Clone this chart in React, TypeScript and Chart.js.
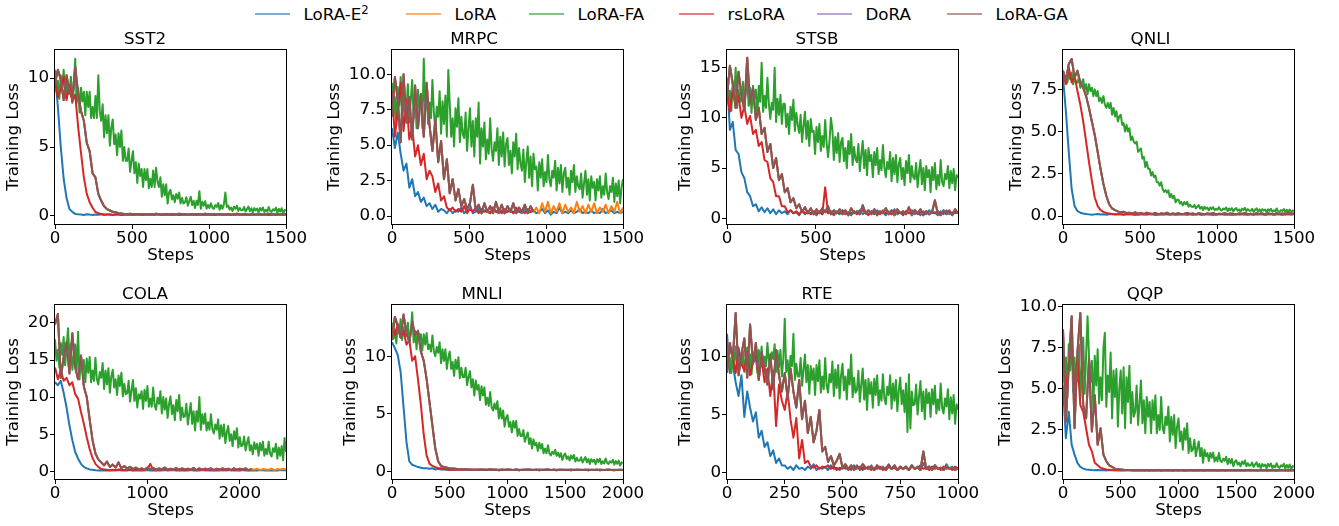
import React, { useEffect, useRef } from "react";
import { Chart, registerables } from "chart.js";

Chart.register(...registerables);

const FONT_FAMILY = "'DejaVu Sans', sans-serif";
const FONT_SIZE = 16.7;

const methodNames = ["LoRA-E²", "LoRA", "LoRA-FA", "rsLoRA", "DoRA", "LoRA-GA"];
const methodColors = ["#1f77b4", "#ff7f0e", "#2ca02c", "#d62728", "#9467bd", "#8c564b"];
const legendColors = [
  "rgba(31,119,180,0.6)",
  "rgba(255,127,14,0.6)",
  "rgba(44,160,44,0.6)",
  "rgba(214,39,40,0.6)",
  "rgba(148,103,189,0.6)",
  "rgba(140,86,75,0.6)",
];

// ---------- tick values ----------
const xTicks1500 = [0, 500, 1000, 1500];
const xTicksStsb = [0, 500, 1000];
const xTicksCola = [0, 1000, 2000];
const xTicks2000 = [0, 500, 1000, 1500, 2000];
const xTicksRte = [0, 250, 500, 750, 1000];
const yTicksSst2 = [0, 5, 10];
const yTicksMrpc = [0, 2.5, 5, 7.5, 10];
const yTicksStsb = [0, 5, 10, 15];
const yTicksQnli = [0, 2.5, 5, 7.5];
const yTicksCola = [0, 5, 10, 15, 20];
const yTicksMnli = [0, 5, 10];
const yTicksRte = [0, 5, 10];
const yTicksQqp = [0, 2.5, 5, 7.5, 10];

// Sampling: most series have 81 samples over the run; LoRA-FA has 161 (twice as dense).

// ---------- SST2 ----------
const sst2E2 = [
  10.4, 7.9, 5.0, 2.7, 1.3, .5, .3, .15, .12, .1,
  .08, .12, .1, .07, .11, .09, .12, .08, .1, .11,
  .07, .1, .12, .08, .1, .09, .11, .07, .1, .12,
  .08, .1, .09, .11, .07, .1, .12, .08, .1, .09,
  .11, .07, .1, .12, .08, .1, .09, .11, .07, .1,
  .12, .08, .1, .09, .11, .07, .1, .12, .08, .1,
  .09, .11, .07, .1, .12, .08, .1, .09, .11, .07,
  .1, .12, .08, .1, .09, .11, .07, .1, .12, .08,
  .1];
const sst2Rs = [
  9.8, 8.6, 9.2, 10.1, 8.4, 9.5, 8.3, 8.8, 6.5, 4.6,
  2.8, 1.6, 1.0, .6, .3, .2, .15, .12, .1, .11,
  .09, .12, .1, .08, .11, .1, .13, .09, .1, .12,
  .08, .11, .1, .13, .09, .1, .12, .08, .11, .1,
  .09, .12, .1, .08, .11, .13, .09, .1, .12, .08,
  .11, .1, .09, .12, .1, .08, .11, .13, .09, .1,
  .12, .08, .11, .1, .09, .12, .1, .08, .11, .1,
  .13, .09, .1, .12, .08, .11, .1, .09, .12, .1,
  .1];
const sst2Ga = [
  9.6, 10.6, 9.9, 8.4, 10.2, 9.0, 8.5, 10.8, 8.9, 7.6,
  6.9, 5.3, 4.7, 3.1, 2.8, 1.6, 1.1, .7, .5, .4,
  .3, .28, .2, .18, .15, .13, .16, .12, .14, .11,
  .15, .12, .1, .14, .11, .16, .12, .1, .15, .13,
  .11, .14, .1, .16, .12, .13, .1, .15, .11, .14,
  .12, .1, .16, .13, .11, .14, .1, .15, .12, .11,
  .14, .1, .13, .16, .11, .12, .15, .1, .14, .12,
  .11, .15, .1, .13, .16, .11, .12, .14, .1, .13,
  .12];
const sst2Fa = [
  10.6, 9.0, 9.8, 8.5, 10.2, 9.3, 10.6, 8.6, 9.7, 8.9,
  8.9, 10.1, 8.2, 9.2, 11.4, 8.2, 9.3, 7.5, 9.3, 8.3,
  9.0, 7.3, 9.0, 7.9, 9.0, 7.1, 7.9, 7.1, 8.7, 7.1,
  10.2, 7.6, 6.9, 8.1, 5.7, 7.3, 6.0, 7.3, 5.1, 6.4,
  7.0, 5.2, 5.9, 4.4, 6.0, 5.0, 6.2, 4.0, 5.0, 4.0,
  4.0, 4.9, 3.2, 4.0, 4.7, 3.1, 3.9, 2.4, 3.8, 2.9,
  3.4, 2.1, 3.4, 2.6, 3.4, 2.0, 2.7, 2.1, 3.3, 2.1,
  3.5, 2.5, 2.1, 2.8, 1.4, 2.3, 1.5, 2.3, .9, 1.7,
  1.9, 1.2, 1.5, 1.0, 1.6, 1.25, 1.7, .9, 1.3, .9,
  .98, 1.36, .75, 1.07, 1.4, .79, 1.1, .57, 1.1, .8,
  1.8, .52, 1.03, .75, 1.07, .53, .8, .58, .92, .6,
  .52, .78, .66, .94, .45, .79, .52, .85, 1.7, .66,
  .76, .46, .61, .36, .68, .52, .74, .37, .58, .42,
  .43, .65, .32, .51, .68, .35, .56, .25, .57, .41,
  .54, .25, .58, .4, .62, .29, .45, .32, .65, .36,
  .29, .49, .4, .61, .23, .52, .32, .56, .2, .44,
  .4];
const sst2Lora = sst2Ga;
const sst2Dora = sst2Ga;

// ---------- MRPC ----------
const mrpcE2 = [
  6.2, 4.8, 5.9, 4.4, 3.2, 3.7, 2.0, 2.6, 1.4, 1.7,
  1.0, 1.3, .7, .9, .5, .8, .3, .5, .4, .2,
  .5, .2, .4, .3, .6, .2, .4, .8, .2, .3,
  .5, .2, .4, .3, .2, .6, .3, .2, .4, .2,
  .3, .5, .2, .4, .3, .2, .5, .2, .3, .4,
  .2, .3, .5, .2, .4, .1, .3, .2, .6, .2,
  .3, .2, .4, .2, .3, .5, .2, .3, .2, .4,
  .2, .3, .2, .5, .2, .3, .4, .2, .3, .2,
  .3];
const mrpcRs = [
  8.8, 5.6, 7.4, 9.4, 6.0, 8.2, 5.4, 6.3, 4.2, 5.0,
  3.6, 4.4, 2.6, 3.2, 2.8, 1.7, 2.3, 1.1, 1.4, .6,
  .4, .6, .3, .5, .3, .7, .2, .5, .3, .6,
  .2, .5, .3, .4, .2, .6, .3, .4, .2, .5,
  .3, .4, .2, .6, .3, .4, .2, .5, .3, .4];
const mrpcGa = [
  7.0, 9.8, 8.2, 5.2, 10.0, 6.6, 8.4, 5.4, 9.2, 6.2,
  8.6, 5.6, 9.4, 6.4, 4.6, 6.8, 3.8, 5.3, 2.6, 4.0,
  1.6, 2.6, 1.1, 1.9, .7, 1.2, .5, .9, 2.2, .4,
  .8, .2, .9, .3, .7, .2, 1.0, .3, .8, .2,
  .7, .3, .9, .2, .6, .3, .8, .2, .7, .3];
const mrpcLoraTail = [
  .6, .2, .9, .3, 1.0, .2, .7, .3, .9, .2,
  .8, .3, .6, .2, 1.0, .3, .7, .2, .8, .3,
  .9, .2, .6, .3, .8, .2, .7, .3, 1.0, .2,
  .6];
const mrpcFa = [
  9.4, 7.1, 8.4, 6.4, 9.1, 7.8, 9.8, 6.7, 8.5, 7.3,
  7.5, 9.3, 6.6, 8.2, 9.6, 6.9, 8.7, 6.2, 8.9, 7.6,
  8.5, 6.2, 11.1, 7.4, 9.2, 6.5, 8.0, 6.9, 9.6, 7.3,
  6.1, 7.7, 7.0, 8.8, 5.8, 8.1, 6.5, 8.5, 5.6, 10.3,
  7.9, 5.6, 6.9, 4.9, 7.6, 6.3, 8.3, 5.2, 7.0, 5.8,
  5.5, 7.3, 4.6, 6.2, 7.6, 4.9, 6.7, 4.2, 6.9, 5.6,
  8.0, 3.7, 6.2, 4.9, 6.6, 4.0, 5.4, 4.4, 6.9, 4.7,
  3.9, 5.2, 4.6, 6.2, 3.6, 5.6, 4.2, 5.9, 3.5, 5.1,
  5.5, 3.6, 4.6, 3.0, 5.2, 4.2, 5.8, 3.3, 4.8, 3.7,
  3.2, 4.7, 2.4, 3.8, 4.9, 2.7, 4.2, 2.1, 4.4, 3.3,
  3.5, 1.8, 3.8, 2.7, 4.0, 2.1, 3.1, 2.4, 4.3, 2.6,
  2.1, 3.2, 2.7, 3.9, 1.8, 3.4, 2.3, 3.6, 1.7, 3.0,
  3.4, 2.0, 2.7, 1.5, 3.2, 2.4, 3.6, 1.7, 2.8, 2.1,
  1.9, 3.0, 1.3, 2.3, 3.2, 1.5, 2.6, 1.1, 2.8, 2.0,
  2.4, 1.1, 2.6, 1.8, 2.8, 1.3, 2.1, 1.5, 3.0, 1.7,
  1.2, 2.1, 1.7, 2.7, 1.0, 2.3, 1.4, 2.5, .9, 2.0,
  2.6];
const mrpcLora = [...mrpcGa, ...mrpcLoraTail];
const mrpcDora = mrpcGa;

// ---------- STSB ----------
const stsbE2 = [
  14.0, 8.8, 9.6, 6.8, 6.4, 4.6, 4.0, 2.6, 2.2, 1.2,
  1.4, .7, 1.1, .6, 1.0, .5, .9, .4, .8, .5,
  .7, .4, .8, .5, .6, .3, .8, .4, .7, .5,
  .6, .3, .7, .4, .8, .5, .6, .3, .7, .4,
  .8, .4, .6, .3, .7, .5, .8, .4, .6, .3,
  .7, .4, .8, .5, .6, .3, .7, .4, .9, .4,
  .6, .3, .7, .5, .8, .4, .6, .3, .7, .4,
  .8, .5, .6, .3, .7, .4, .8, .4, .6, .5,
  .6];
const stsbRs = [
  12.5, 10.6, 13.0, 11.0, 12.2, 10.0, 11.2, 9.4, 10.2, 8.4,
  8.8, 7.2, 7.6, 5.8, 5.6, 4.0, 3.6, 2.2, 2.2, 1.2,
  1.2, .6, .8, .5, .7, .4, .8, .5, .6, .4,
  .7, .5, .6, .4, 3.1, .5, .7, .4, .6, .5,
  .8, .4, .6, .5, .7, .4, .6, .8, .5, .4,
  .7, .5, .6, .4, .8, .5, .6, .4, .7, .5,
  .6, .4, .7, .5, .6, .8, .4, .6, .5, .7,
  .4, .6, .5, .7, .4, .6, .5, .8, .4, .6,
  .5];
const stsbGa = [
  12.0, 15.2, 13.4, 11.0, 14.6, 12.2, 10.8, 16.0, 11.4, 13.0,
  9.8, 11.0, 8.4, 9.0, 6.6, 7.4, 5.0, 6.0, 3.8, 4.4,
  2.6, 3.0, 1.6, 2.0, 1.0, 1.4, .6, 1.1, .5, 1.0,
  .4, .9, .5, 1.0, .6, 1.2, .4, .8, .5, .9,
  .4, .8, .3, 1.0, .5, .7, .4, 1.3, .5, .8,
  .4, .9, .3, .7, .5, 1.0, .4, .8, .3, .9,
  .5, .7, .4, 1.1, .3, .8, .5, .9, .3, .7,
  .4, .6, 1.8, .5, .3, .8, .4, .7, .3, .9,
  .5];
const stsbFa = [
  13.7, 11.4, 12.7, 10.7, 13.4, 12.1, 15.0, 11.0, 12.8, 11.6,
  11.8, 13.6, 10.9, 12.5, 13.9, 11.2, 13.0, 10.5, 13.2, 11.9,
  12.8, 10.2, 13.2, 11.6, 15.5, 10.6, 12.2, 11.0, 14.0, 11.4,
  9.9, 11.5, 10.8, 15.0, 9.6, 11.9, 10.3, 12.3, 9.4, 11.4,
  11.4, 9.1, 10.4, 8.4, 11.1, 9.8, 11.8, 8.7, 10.5, 9.3,
  8.5, 10.3, 7.6, 9.2, 10.6, 7.9, 9.7, 7.2, 9.9, 8.6,
  8.7, 6.4, 9.1, 7.6, 9.4, 6.7, 8.2, 7.1, 9.8, 7.5,
  6.1, 7.7, 10.0, 8.8, 5.8, 8.1, 6.5, 8.5, 5.6, 7.6,
  8.0, 5.7, 7.0, 5.0, 7.7, 6.4, 8.4, 5.3, 7.1, 5.9,
  5.6, 7.4, 4.7, 6.3, 7.7, 5.0, 6.8, 4.3, 7.0, 5.7,
  6.3, 4.1, 6.6, 5.3, 7.0, 4.4, 5.8, 4.8, 7.3, 5.1,
  4.1, 5.6, 4.9, 6.6, 3.7, 6.0, 4.4, 6.3, 3.6, 5.4,
  6.0, 3.9, 5.0, 3.3, 5.7, 4.5, 6.3, 3.6, 5.2, 4.1,
  3.9, 5.5, 3.1, 4.6, 5.8, 3.4, 5.0, 2.8, 5.2, 4.1,
  4.8, 2.6, 5.1, 3.8, 5.5, 2.9, 4.3, 3.3, 5.8, 3.6,
  3.2, 4.4, 3.9, 5.2, 3.0, 4.7, 3.5, 4.9, 2.8, 4.3,
  4.0];
const stsbLora = stsbGa;
const stsbDora = stsbGa;

// ---------- QNLI ----------
const qnliE2 = [
  8.2, 6.2, 3.8, 1.6, .6, .3, .2, .15, .12, .1,
  .08, .1, .12, .09, .11, .08, .1, .12, .09, .1,
  .11, .08, .1, .12, .09, .1, .08, .11, .1, .09,
  .12, .1, .08, .11, .09, .1, .12, .08, .1, .11,
  .09, .1, .12, .08, .11, .1, .09, .12, .08, .1,
  .11, .09, .1, .08, .12, .1, .09, .11, .08, .1,
  .12, .09, .1, .11, .08, .1, .12, .09, .11, .1,
  .08, .1, .12, .09, .1, .11, .08, .12, .1, .09,
  .1];
const qnliRs = [
  8.4, 7.8, 8.8, 7.9, 8.3, 7.4, 6.6, 5.6, 4.4, 3.2,
  2.1, 1.1, .6, .35, .25, .18, .15, .12, .1, .12,
  .1, .09, .12, .1, .11, .08, .12, .1, .09, .11,
  .1, .12, .08, .11, .1, .09, .12, .1, .11, .08,
  .1, .12, .09, .11, .1, .08, .12, .1, .09, .11,
  .12, .1, .08, .11, .1, .12, .09, .1, .11, .08,
  .1, .12, .1, .09, .11, .1, .08, .12, .1, .11,
  .09, .1, .12, .08, .11, .1, .09, .12, .1, .11,
  .1];
const qnliGa = [
  8.6, 8.0, 9.0, 9.3, 8.2, 8.6, 7.9, 7.6, 7.1, 6.4,
  5.6, 4.8, 3.8, 2.8, 1.9, 1.2, .7, .45, .35, .28,
  .22, .25, .18, .2, .15, .22, .14, .18, .12, .2,
  .15, .12, .18, .1, .16, .13, .2, .11, .15, .12,
  .17, .1, .14, .19, .12, .15, .1, .17, .13, .11,
  .16, .12, .18, .1, .14, .12, .17, .11, .15, .13,
  .1, .16, .12, .18, .11, .14, .1, .17, .12, .15,
  .11, .16, .13, .1, .17, .12, .15, .11, .18, .13,
  .15];
const qnliFa = [
  8.6, 8.1, 8.3, 7.9, 8.4, 8.1, 8.5, 7.8, 8.2, 7.9,
  7.9, 8.2, 7.6, 7.9, 8.1, 7.5, 7.8, 7.2, 7.8, 7.4,
  7.6, 7.1, 7.5, 7.1, 7.4, 6.8, 7.0, 6.7, 7.1, 6.6,
  6.4, 6.7, 6.4, 6.7, 6.0, 6.4, 5.9, 6.2, 5.6, 5.9,
  6.0, 5.4, 5.5, 5.0, 5.4, 5.0, 5.2, 4.5, 4.7, 4.4,
  4.3, 4.4, 3.8, 3.9, 4.0, 3.4, 3.5, 2.9, 3.2, 2.8,
  2.8, 2.4, 2.6, 2.3, 2.4, 2.0, 2.0, 1.8, 2.0, 1.6,
  1.43, 1.54, 1.39, 1.52, 1.11, 1.3, 1.05, 1.2, .81, .96,
  .97, .74, .83, .63, .83, .7, .84, .55, .68, .55,
  .54, .66, .45, .55, .65, .44, .55, .36, .55, .43,
  .5, .34, .51, .42, .53, .35, .43, .37, .53, .37,
  .33, .44, .39, .51, .29, .45, .34, .47, .28, .41,
  .47, .31, .39, .26, .44, .36, .49, .29, .41, .32,
  .31, .43, .25, .36, .46, .28, .4, .23, .41, .33,
  .38, .22, .4, .31, .43, .25, .34, .27, .45, .29,
  .24, .35, .3, .42, .21, .37, .26, .39, .2, .33,
  .3];
const qnliLora = qnliGa;
const qnliDora = qnliGa;

// ---------- COLA ----------
const colaE2 = [
  12.0, 11.6, 12.2, 10.6, 8.6, 6.2, 4.2, 2.6, 1.7, 1.0,
  .6, .4, .25, .2, .15, .12, .15, .1, .12, .15,
  .1, .13, .16, .11, .14, .1, .17, .12, .15, .11,
  .14, .1, .16, .12, .13, .1, .15, .12, .17, .11,
  .13, .16, .1, .14, .12, .15, .11, .17, .12, .14,
  .1, .16, .13, .11, .15, .12, .14, .1, .16, .12,
  .13, .15, .11, .14, .12, .16, .1, .15, .12, .14,
  .11, .16, .13, .1, .15, .12, .14, .11, .16, .13,
  .15];
const colaRs = [
  14.0, 12.4, 13.6, 12.2, 12.6, 11.6, 12.0, 10.4, 9.8, 8.0,
  6.4, 4.6, 3.0, 1.8, 1.0, .6, .3, .25, .2, .15,
  .2, .15, .25, .2, .15, .3, .2, .15, .25, .2,
  .15, .2, .3, 1.0, .2, .15, .25, .2, .3, .15,
  .2, .25, .15, .3, .2, .15, .25, .2, .3, .15,
  .2, .25, .15, .2, .3, .15, .2, .25, .15, .2,
  .3, .15, .2, .25, .15, .2, .3, .15, .2];
const colaGa = [
  19.8, 21.2, 12.6, 15.4, 17.4, 13.2, 18.6, 14.0, 12.4, 15.6,
  11.4, 10.0, 7.0, 4.2, 2.4, 1.6, 1.2, .8, 1.3, .6,
  .9, .5, 1.2, .4, .7, .35, .6, .3, .5, .25,
  .4, .2, .5, .3, .45, .2, .4, .25, .5, .2,
  .35, .2, .45, .15, .4, .25, .35, .2, .45, .15,
  .4, .2, .35, .25, .4, .15, .35, .2, .4, .25,
  .35, .15, .4, .2, .35, .25, .4, .15, .3];
const colaLoraTail = [.2, .35, .15, .3, .25, .2, .35, .15, .3, .2, .35, .25];
const colaFa = [
  17.8, 14.9, 16.4, 14.0, 17.3, 15.7, 18.1, 14.3, 16.5, 19.3,
  15.1, 17.2, 13.7, 15.5, 17.1, 13.6, 18.8, 12.4, 15.5, 13.8,
  15.0, 12.0, 15.2, 13.3, 15.4, 12.0, 13.6, 12.2, 15.3, 12.4,
  11.7, 13.4, 12.6, 14.6, 11.1, 13.6, 11.7, 13.9, 10.6, 12.8,
  13.7, 11.3, 12.4, 10.3, 12.9, 11.5, 13.3, 10.1, 11.8, 10.4,
  10.5, 12.2, 9.4, 10.9, 12.3, 9.5, 11.2, 8.6, 10.4, 9.8,
  10.8, 8.4, 11.0, 9.5, 11.5, 8.7, 9.8, 8.7, 11.3, 8.9,
  8.3, 9.9, 9.1, 10.8, 7.8, 10.0, 8.3, 9.8, 7.2, 9.1,
  10.1, 7.7, 8.9, 6.9, 9.6, 8.1, 10.3, 6.9, 8.6, 7.3,
  7.4, 9.1, 6.3, 7.8, 9.2, 6.4, 8.1, 5.5, 8.1, 6.7,
  10.0, 5.6, 7.7, 6.4, 7.8, 5.5, 6.6, 5.6, 7.7, 5.7,
  5.1, 6.3, 5.6, 7.0, 4.4, 6.2, 4.7, 6.3, 3.8, 5.3,
  6.1, 4.1, 5.0, 3.4, 5.4, 4.3, 5.8, 3.2, 4.6, 3.4,
  3.5, 4.7, 2.8, 3.8, 4.6, 2.8, 3.5, 2.3, 3.9, 3.0,
  3.7, 2.1, 3.8, 2.8, 4.0, 2.1, 3.0, 2.3, 4.0, 2.4,
  2.0, 3.1, 2.6, 3.7, 1.7, 3.2, 2.1, 3.4, 1.5, 4.5,
  2.6];
const colaLora = [...colaGa, ...colaLoraTail];
const colaDora = colaGa;

// ---------- MNLI ----------
const mnliE2 = [
  11.2, 10.7, 10.1, 8.6, 5.6, 2.6, .9, .6, .5, .4,
  .35, .3, .3, .25, .3, .2, .25, .2, .22, .18,
  .2, .17, .22, .18, .2, .16, .21, .18, .2, .17,
  .19, .16, .2, .18, .21, .17, .19, .16, .2, .18,
  .17, .2, .16, .19, .18, .15, .2, .17, .19, .16,
  .18, .2, .16, .19, .17, .15, .2, .18, .16, .19,
  .17, .15, .19, .18, .16, .2, .17, .15, .19, .16,
  .18, .16, .19, .15, .17, .2, .16, .18, .15, .19,
  .17];
const mnliRs = [
  12.6, 11.8, 12.8, 11.6, 12.2, 11.0, 11.4, 9.6, 10.0, 8.0,
  5.8, 3.2, 1.4, .7, .5, .4, .3, .3, .25, .2,
  .18, .2, .16, .19, .15, .18, .2, .16, .17, .15,
  .19, .16, .18, .14, .17, .19, .15, .17, .16, .18,
  .14, .17, .15, .19, .16, .14, .18, .15, .17, .16,
  .15, .18, .14, .17, .16, .15, .18, .14, .17, .15,
  .16, .14, .18, .15, .17, .14, .16, .18, .15, .16,
  .14, .17, .15, .16, .18, .14, .16, .15, .17, .14,
  .15];
const mnliGa = [
  11.4, 13.4, 12.6, 11.6, 13.6, 12.0, 11.2, 13.0, 11.8, 12.2,
  10.4, 9.6, 8.0, 6.0, 4.0, 2.0, .9, .5, .4, .35,
  .3, .28, .25, .22, .2, .22, .18, .2, .16, .18,
  .15, .19, .14, .17, .2, .15, .18, .13, .17, .15,
  .19, .14, .16, .18, .13, .17, .15, .19, .14, .16,
  .18, .13, .17, .15, .19, .14, .16, .13, .18, .15,
  .14, .17, .13, .16, .18, .14, .15, .17, .13, .16,
  .15, .18, .13, .16, .14, .17, .15, .13, .16, .14,
  .15];
const mnliFa = [
  12.9, 11.5, 12.3, 11.1, 12.7, 12.0, 13.2, 11.4, 12.5, 11.7,
  11.9, 12.9, 11.2, 12.1, 13.8, 11.2, 12.2, 10.6, 12.2, 11.4,
  11.9, 10.5, 11.9, 11.0, 12.0, 10.6, 11.0, 10.4, 11.8, 10.4,
  10.0, 10.8, 10.3, 11.2, 9.4, 10.6, 9.6, 10.6, 8.9, 9.9,
  10.4, 8.9, 9.5, 8.3, 9.7, 8.9, 9.9, 8.1, 9.0, 8.2,
  8.2, 9.0, 7.5, 8.2, 8.7, 7.3, 8.0, 6.6, 7.9, 7.1,
  7.5, 6.2, 7.4, 6.6, 7.3, 5.8, 6.4, 5.7, 6.9, 5.6,
  5.3, 5.9, 5.4, 6.1, 4.6, 5.5, 4.6, 5.3, 3.9, 4.7,
  4.9, 3.9, 4.3, 3.4, 4.4, 3.8, 4.4, 3.1, 3.7, 3.1,
  3.1, 3.6, 2.6, 3.0, 3.4, 2.4, 2.9, 2.0, 2.8, 2.3,
  2.5, 1.8, 2.5, 2.0, 2.4, 1.6, 2.0, 1.6, 2.3, 1.6,
  1.41, 1.73, 1.54, 1.9, 1.37, 1.65, 1.28, 1.6, 1.02, 1.41,
  1.58, 1.1, 1.32, .97, 1.4, 1.14, 1.45, .88, 1.21, .94,
  .96, 1.25, .8, 1.04, 1.27, .81, 1.1, .67, 1.09, .87,
  1.04, .64, 1.08, .84, 1.12, .67, .9, .72, 1.14, .75,
  .68, .9, .79, 1.04, .61, .92, .69, .96, .53, .81,
  .75];
const mnliLora = mnliGa;
const mnliDora = mnliGa;

// ---------- RTE ----------
const rteE2 = [
  12.0, 8.6, 9.4, 7.8, 6.6, 8.4, 4.8, 7.0, 5.6, 4.4,
  5.2, 3.0, 3.6, 2.2, 2.6, 1.4, 1.9, .8, 1.2, .6,
  .6, .3, .5, .2, .6, .3, .4, .2, .5, .3,
  .7, .2, .4, .3, .5, .2, .6, .3, .4, .2,
  .5, .3, .4, .2, .6, .3, .5, .2, .4, .3,
  .6, .2, .4, .3, .5, .2, .7, .3, .4, .2,
  .5, .3, .4, .2, .6, .3, .5, .2, .8, .3,
  .5, .2, .6, .3, .4, .2, .7, .3, .5, .2,
  .4];
const rteRs = [
  9.2, 11.2, 10.0, 8.6, 10.8, 9.4, 8.8, 10.4, 8.4, 9.6,
  10.0, 8.2, 9.8, 7.8, 9.0, 6.6, 8.8, 4.0, 7.6, 6.2,
  5.4, 7.0, 4.6, 3.0, 4.7, 1.2, 2.8, .8, 1.0, .5,
  .4, .6, .3, .5, .4, .6, .3, .5, .2, .4,
  .3, .5, .2, .4, .3, .6, .2, .4, .3, .5,
  .2, .4, .3, .5, .2, .4, .6, .3, .4, .2,
  .5, .3, .4, .2, .5, .3, .4, .6, .3, .4,
  .2, .5, .3, .4, .2, .5, .3, .4, .2, .5,
  .3];
const rteGa = [
  8.6, 11.0, 9.8, 13.8, 8.4, 10.2, 11.6, 8.2, 12.8, 9.4,
  11.2, 8.0, 10.4, 9.0, 7.6, 10.2, 7.2, 10.6, 8.4, 7.0,
  8.6, 6.4, 9.0, 7.0, 5.6, 8.0, 4.6, 6.2, 3.4, 4.8,
  2.6, 3.6, 5.4, 1.8, 2.2, .9, 1.4, .6, 1.0, 1.6,
  .4, .7, .3, .6, .2, .5, .3, .7, .4, .3,
  .5, .2, .6, .3, .4, .2, .5, .3, .6, .2,
  .4, .3, .5, .2, .6, .3, .4, .2, 1.8, .3,
  .5, .2, .6, .3, .4, .2, .5, .3, .4, .2,
  .4];
const rteFa = [
  10.7, 9.1, 9.9, 8.6, 10.4, 9.6, 10.9, 8.9, 10.1, 9.2,
  9.3, 10.5, 8.7, 9.8, 10.8, 9.0, 10.2, 8.5, 10.3, 9.6,
  10.3, 8.6, 10.6, 9.5, 10.9, 9.0, 10.0, 9.2, 11.2, 9.6,
  9.2, 10.4, 9.8, 11.1, 8.7, 10.5, 9.1, 10.6, 8.3, 9.8,
  13.3, 8.7, 9.7, 8.1, 10.1, 9.2, 12.0, 8.0, 9.4, 8.3,
  8.3, 9.9, 7.5, 8.9, 10.2, 7.8, 9.3, 6.8, 9.2, 8.0,
  9.0, 6.7, 9.3, 7.9, 9.7, 6.9, 8.3, 7.2, 9.9, 7.5,
  6.9, 8.5, 7.8, 9.6, 6.6, 8.9, 7.3, 9.3, 6.4, 8.4,
  9.4, 7.1, 8.3, 6.3, 8.9, 7.6, 10.2, 6.5, 8.2, 6.9,
  7.1, 8.8, 6.1, 7.6, 9.0, 6.3, 8.0, 5.4, 8.1, 6.8,
  7.8, 5.6, 8.1, 6.7, 8.4, 5.8, 7.1, 6.2, 8.5, 6.4,
  5.9, 7.4, 6.7, 8.4, 5.5, 7.7, 6.2, 8.0, 5.3, 7.1,
  8.2, 5.9, 7.1, 5.2, 7.7, 3.5, 8.5, 3.8, 7.0, 5.8,
  5.9, 7.6, 5.0, 6.6, 7.9, 5.3, 7.0, 4.6, 7.2, 6.0,
  6.9, 4.8, 7.2, 5.9, 7.5, 5.1, 6.3, 5.4, 7.7, 5.6,
  5.1, 6.4, 5.7, 7.2, 4.6, 6.5, 5.1, 6.7, 4.2, 5.9,
  5.4];
const rteLora = rteGa;
const rteDora = rteGa;

// ---------- QQP ----------
const qqpE2 = [
  5.2, 2.0, 3.6, 1.6, 1.0, .5, .25, .15, .1, .08,
  .06, .05, .07, .05, .06, .04, .06, .05, .07, .05,
  .04, .06, .05, .07, .04, .06, .05, .04, .06, .05,
  .07, .04, .05, .06, .04, .07, .05, .06, .04, .05,
  .06, .05, .04, .07, .05, .06, .04, .05, .06, .04,
  .05, .07, .04, .06, .05, .04, .06, .05, .07, .04,
  .06, .05, .04, .06, .05, .07, .04, .05, .06, .04,
  .05, .06, .04, .05, .07, .04, .06, .05, .04, .06,
  .05];
const qqpRs = [
  7.2, 5.0, 6.4, 8.0, 4.6, 6.8, 4.0, 3.6, 2.6, 1.6,
  1.2, .5, .35, .2, .15, .1, .08, .06, .05, .06,
  .05, .04, .06, .05, .07, .04, .05, .06, .04, .05,
  .06, .05, .04, .06, .05, .07, .04, .05, .06, .05,
  .04, .06, .05, .04, .07, .05, .06, .04, .05, .06,
  .05, .04, .06, .05, .04, .06, .05, .07, .04, .05,
  .06, .04, .05, .06, .05, .04, .07, .05, .04, .06,
  .05, .04, .06, .05, .04, .06, .05, .04, .06, .05,
  .05];
const qqpGa = [
  8.6, 3.0, 6.4, 9.4, 2.6, 7.2, 9.6, 4.0, 3.2, 6.8,
  2.4, 4.6, 1.6, 2.6, 1.0, .6, .35, .25, .15, .12,
  .1, .08, .07, .06, .05, .06, .05, .07, .05, .06,
  .04, .06, .05, .07, .04, .05, .06, .05, .04, .06,
  .05, .07, .04, .05, .06, .04, .05, .06, .05, .04,
  .06, .05, .07, .04, .05, .06, .04, .05, .06, .05,
  .04, .06, .05, .04, .07, .05, .06, .04, .05, .06,
  .05, .04, .06, .05, .04, .06, .05, .07, .04, .05,
  .05];
const qqpFa = [
  8.3, 5.4, 6.9, 4.5, 7.7, 6.1, 8.6, 4.8, 6.9, 5.4,
  5.5, 7.7, 4.4, 6.3, 8.1, 4.7, 7.0, 9.4, 7.0, 5.4,
  6.7, 3.8, 7.0, 5.2, 7.4, 4.1, 5.7, 4.3, 7.5, 8.4,
  3.9, 5.8, 4.8, 7.2, 3.2, 6.1, 4.5, 6.2, 2.7, 5.0,
  6.1, 3.5, 6.3, 2.6, 5.7, 4.2, 6.4, 2.9, 4.8, 3.3,
  3.6, 5.2, 2.8, 4.1, 5.5, 2.9, 4.3, 2.3, 4.5, 3.3,
  4.2, 2.3, 4.3, 3.1, 4.6, 2.3, 3.4, 2.5, 4.5, 2.6,
  2.3, 3.3, 2.8, 3.9, 1.8, 3.3, 2.2, 3.4, 1.4, 2.7,
  3.2, 1.8, 2.4, 1.3, 2.6, 1.9, 2.9, 1.1, 2.0, 1.2,
  1.3, 1.9, .9, 1.4, 1.8, .9, 1.4, .5, 1.3, .9,
  1.09, .61, 1.11, .81, 1.13, .58, .84, .6, 1.1, .62,
  .55, .76, .63, .87, .42, .73, .48, .74, .29, .57,
  .66, .39, .52, .29, .58, .43, .64, .29, .48, .33,
  .35, .52, .25, .4, .53, .26, .43, .17, .43, .3,
  .4, .17, .44, .29, .46, .19, .34, .22, .48, .26,
  .19, .35, .28, .45, .15, .37, .2, .4, .1, .3,
  .25];
const qqpLora = qqpGa;
const qqpDora = qqpGa;

// ---------- layout ----------
const plotLefts = [55, 392, 727, 1063];
const plotTops = [50, 305];
const PLOT_W = 231;
const PLOT_H = 174;
const TITLE_H = 20;
const X_AXIS_H = 42;
const RIGHT_PAD = 26;
const legendLeft = [255, 406, 529, 679, 817, 947];

type Panel = {
  title: string; col: number; row: number; xMax: number; xTicks: number[];
  yMin: number; yMax: number; yTicks: number[]; yDec: number; yAxisW: number; series: number[][];
};

const panels: Panel[] = [
  { title: "SST2", col: 0, row: 0, xMax: 1500, xTicks: xTicks1500, yMin: -0.58, yMax: 12.03, yTicks: yTicksSst2, yDec: 0, yAxisW: 51,
    series: [sst2E2, sst2Lora, sst2Fa, sst2Rs, sst2Dora, sst2Ga] },
  { title: "MRPC", col: 1, row: 0, xMax: 1500, xTicks: xTicks1500, yMin: -0.56, yMax: 11.71, yTicks: yTicksMrpc, yDec: 1, yAxisW: 67,
    series: [mrpcE2, mrpcLora, mrpcFa, mrpcRs, mrpcDora, mrpcGa] },
  { title: "STSB", col: 2, row: 0, xMax: 1300, xTicks: xTicksStsb, yMin: -0.57, yMax: 16.76, yTicks: yTicksStsb, yDec: 0, yAxisW: 51,
    series: [stsbE2, stsbLora, stsbFa, stsbRs, stsbDora, stsbGa] },
  { title: "QNLI", col: 3, row: 0, xMax: 1500, xTicks: xTicks1500, yMin: -0.47, yMax: 9.83, yTicks: yTicksQnli, yDec: 1, yAxisW: 56,
    series: [qnliE2, qnliLora, qnliFa, qnliRs, qnliDora, qnliGa] },
  { title: "COLA", col: 0, row: 1, xMax: 2500, xTicks: xTicksCola, yMin: -1.04, yMax: 22.42, yTicks: yTicksCola, yDec: 0, yAxisW: 51,
    series: [colaE2, colaLora, colaFa, colaRs, colaDora, colaGa] },
  { title: "MNLI", col: 1, row: 1, xMax: 2000, xTicks: xTicks2000, yMin: -0.63, yMax: 14.43, yTicks: yTicksMnli, yDec: 0, yAxisW: 51,
    series: [mnliE2, mnliLora, mnliFa, mnliRs, mnliDora, mnliGa] },
  { title: "RTE", col: 2, row: 1, xMax: 1000, xTicks: xTicksRte, yMin: -0.58, yMax: 14.49, yTicks: yTicksRte, yDec: 0, yAxisW: 51,
    series: [rteE2, rteLora, rteFa, rteRs, rteDora, rteGa] },
  { title: "QQP", col: 3, row: 1, xMax: 2000, xTicks: xTicks2000, yMin: -0.48, yMax: 10.08, yTicks: yTicksQqp, yDec: 1, yAxisW: 67,
    series: [qqpE2, qqpLora, qqpFa, qqpRs, qqpDora, qqpGa] },
];

const framePlugin = {
  id: "frame",
  afterDraw(chart: any) {
    const { ctx, chartArea: a } = chart;
    ctx.save();
    ctx.strokeStyle = "#000";
    ctx.lineWidth = 1;
    ctx.strokeRect(a.left - 0.5, a.top - 0.5, a.right - a.left + 1, a.bottom - a.top + 1);
    ctx.restore();
  },
};

function makeConfig(p: Panel): any {
  const font = { family: FONT_FAMILY, size: FONT_SIZE, lineHeight: "20px" };
  return {
    type: "line",
    data: {
      datasets: p.series.map((ys, k) => {
        // LoRA-FA (k = 2) is sampled twice as densely as the other series
        const dx = p.xMax / (k === 2 ? 160 : 80);
        return {
          label: methodNames[k],
          data: ys.map((y, i) => ({ x: i * dx, y })),
          borderColor: methodColors[k],
          backgroundColor: methodColors[k],
          borderWidth: 2,
          borderJoinStyle: "round",
          pointRadius: 0,
          pointHoverRadius: 0,
          tension: 0,
          fill: false,
          order: 5 - k,
        };
      }),
    },
    options: {
      responsive: false,
      animation: false,
      events: [],
      parsing: false,
      layout: { padding: { left: 0, right: RIGHT_PAD, top: 0, bottom: 0 } },
      plugins: {
        legend: { display: false },
        tooltip: { enabled: false },
        title: {
          display: true,
          text: p.title,
          color: "#000",
          font: { ...font, weight: "normal" },
          padding: { top: 0, bottom: 0 },
        },
      },
      scales: {
        x: {
          type: "linear",
          min: 0,
          max: p.xMax,
          afterBuildTicks: (s: any) => { s.ticks = p.xTicks.map((v) => ({ value: v })); },
          afterFit: (s: any) => { s.height = X_AXIS_H; },
          ticks: { color: "#000", font, padding: 0, maxRotation: 0, minRotation: 0, autoSkip: false, callback: (v: number) => String(v) },
          grid: { display: true, drawOnChartArea: false, drawTicks: true, tickLength: 5, color: "#000", lineWidth: 1 },
          border: { display: false },
          title: { display: true, text: "Steps", color: "#000", font, padding: 0 },
        },
        y: {
          type: "linear",
          min: p.yMin,
          max: p.yMax,
          afterBuildTicks: (s: any) => { s.ticks = p.yTicks.map((v) => ({ value: v })); },
          afterFit: (s: any) => { s.width = p.yAxisW; },
          ticks: { color: "#000", font, padding: 1, autoSkip: false, callback: (v: number) => (p.yDec ? Number(v).toFixed(1) : String(v)) },
          grid: { display: true, drawOnChartArea: false, drawTicks: true, tickLength: 5, color: "#000", lineWidth: 1 },
          border: { display: false },
          title: { display: true, text: "Training Loss", color: "#000", font, padding: 0 },
        },
      },
    },
    plugins: [framePlugin],
  };
}

function PanelChart({ p }: { p: Panel }) {
  const ref = useRef<HTMLCanvasElement>(null);
  const w = p.yAxisW + PLOT_W + RIGHT_PAD;
  const h = TITLE_H + PLOT_H + X_AXIS_H;
  useEffect(() => {
    if (!ref.current) return;
    const chart = new Chart(ref.current, makeConfig(p));
    return () => chart.destroy();
  }, []);
  return (
    <canvas
      ref={ref}
      width={w}
      height={h}
      style={{ position: "absolute", left: plotLefts[p.col] - p.yAxisW, top: plotTops[p.row] - TITLE_H, width: w, height: h }}
    />
  );
}

function Legend() {
  return (
    <>
      {methodNames.map((name, k) => (
        <div
          key={name}
          style={{
            position: "absolute",
            left: legendLeft[k],
            top: 4,
            height: 20,
            display: "flex",
            alignItems: "center",
            fontFamily: FONT_FAMILY,
            fontSize: FONT_SIZE,
            lineHeight: "20px",
            whiteSpace: "nowrap",
            color: "#000",
          }}
        >
          <span style={{ display: "inline-block", width: 35, height: 2, background: legendColors[k], marginRight: 13.5 }} />
          <span>
            {k === 0 ? (
              <>
                LoRA-E<sup style={{ fontSize: "0.7em", lineHeight: 0, verticalAlign: "6px" }}>2</sup>
              </>
            ) : (
              name
            )}
          </span>
        </div>
      ))}
    </>
  );
}

export default function App() {
  return (
    <div style={{ position: "absolute", left: 0, top: 0, width: 1339, height: 526, background: "#fff", overflow: "hidden" }}>
      <Legend />
      {panels.map((p) => (
        <PanelChart key={p.title} p={p} />
      ))}
    </div>
  );
}
